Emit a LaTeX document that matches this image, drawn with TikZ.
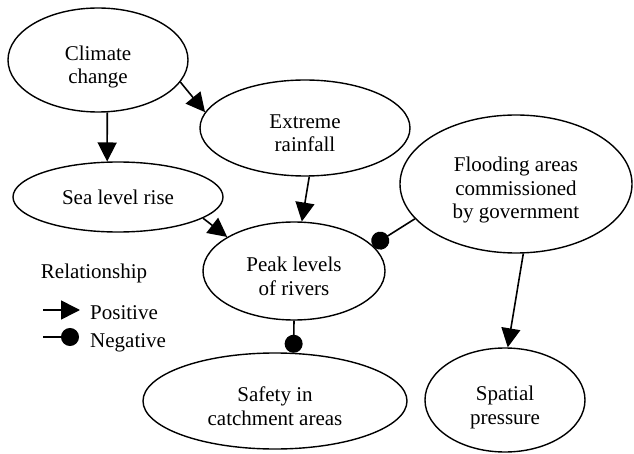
\documentclass[tikz,border=0pt]{standalone}
\usepackage{fontspec}
\setmainfont{Liberation Serif}
\usetikzlibrary{shapes.geometric}
\usetikzlibrary{arrows.meta}

\begin{document}
\begin{tikzpicture}[x=1pt,y=-1pt,
    posrel/.style={-{Triangle[length=19pt,width=19pt]}},
    negrel/.style={-{Circle[length=18pt]}}]
            \useasboundingbox (0,0) rectangle (634,454);

            \begin{scope}[every node/.style={ellipse,draw,line width=1.4pt,inner sep=0pt,
                align=center,font=\fontsize{21}{23.5}\selectfont,text height=48pt,text depth=0pt}]
                \node[minimum width=180pt,minimum height=104pt] (climate) at (98,60) {Climate\\change};
                \node[minimum width=210pt,minimum height=96pt] (rain) at (305,128) {Extreme\\rainfall};
                \node[minimum width=210pt,minimum height=70pt,text height=15pt] (sea) at (118,197) {Sea level rise};
                \node[minimum width=232pt,minimum height=138pt,text height=70pt] (flood) at (516,184) {Flooding areas\\commissioned\\by government};
                \node[minimum width=182pt,minimum height=98pt] (peak) at (294,271) {Peak levels\\of rivers};
                \node[minimum width=264pt,minimum height=96pt] (safety) at (275,401) {Safety in\\catchment areas};
                \node[minimum width=160pt,minimum height=104pt] (spatial) at (505,400) {Spatial\\pressure};
            \end{scope};

            % legend
            \begin{scope}[every node/.style={font=\fontsize{21}{23.5}\selectfont,inner sep=0pt}]
                \node[anchor=base] (legend) at (94,278) {Relationship};
                \node[anchor=base west] (postext) at (90,319) {Positive};
                \node[anchor=base west] (negtext) at (90,347) {Negative};
            \end{scope}
            \coordinate (p0) at (43,310);
            \coordinate (p1) at (80,310);
            \coordinate (n0) at (43,337);
            \coordinate (n1) at (79,337);

            \begin{scope}[every edge/.style={draw=black,line width=1.6pt}]
                \path [posrel] (climate.-80) edge (sea.107);
                \path [posrel] (climate.-15) edge (rain.171);
                \path [posrel] (rain.-85) edge (peak.81);
                \path [posrel] (sea.-14) edge (peak.153);
                \path [negrel] (flood.-161) edge (peak.18);
                \path [posrel] (flood.-84) edge (spatial.87);
                \path [negrel] (peak.-90) edge (safety.69);
                \path [posrel] (p0) edge (p1);
                \path [negrel] (n0) edge (n1);
            \end{scope}
        \end{tikzpicture}
\end{document}
